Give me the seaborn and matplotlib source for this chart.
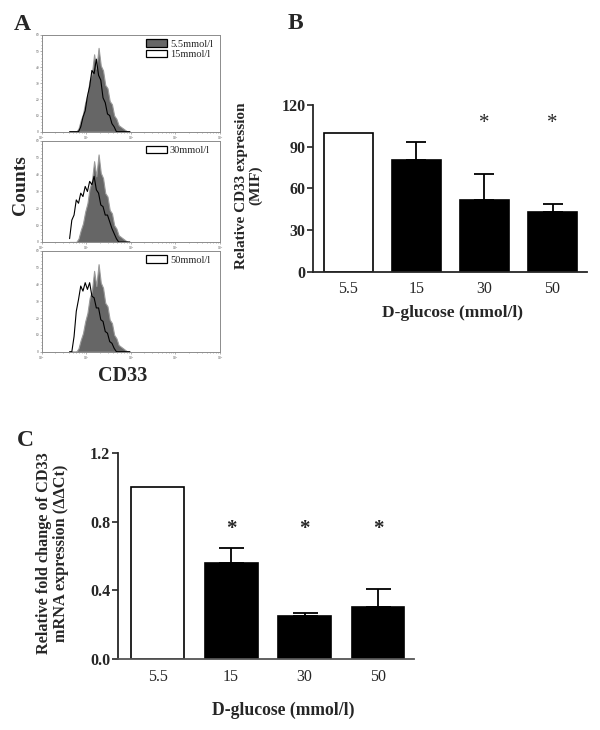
import numpy as np
import pandas as pd
import seaborn as sns
import matplotlib.pyplot as plt
from matplotlib.patches import Patch
from matplotlib.ticker import AutoMinorLocator

sns.set_theme(style="ticks")
plt.rcParams["font.family"] = ["Liberation Serif", "DejaVu Serif"]

# panel B / C bar data
glucose = ["5.5", "15", "30", "50"]
mif_mean = [100, 80.5, 51.5, 43]
mif_sem = [0, 12.5, 18.5, 6]
mif_sig = ["", "", "*", "*"]
mrna_mean = [1.0, 0.56, 0.25, 0.30]
mrna_sem = [0, 0.085, 0.015, 0.11]
mrna_sig = ["", "*", "*", "*"]

# panel A flow histograms (log10 bin left edges, counts per bin)
log_bins = [0.60, 0.65, 0.70, 0.75, 0.80, 0.85, 0.90, 0.95, 1.00, 1.05,
            1.10, 1.15, 1.20, 1.25, 1.30, 1.35, 1.40, 1.45, 1.50, 1.55,
            1.60, 1.65, 1.70, 1.75, 1.80, 1.85, 1.90, 1.95]
counts_55 = [0, 0, 0, 0, 2, 7, 11, 18, 23, 32, 36, 48, 39, 52, 41, 38, 29, 27,
             19, 17, 10, 8, 4, 3, 2, 1, 0, 0]
counts_15 = [0, 0, 0, 0, 0, 3, 9, 13, 22, 28, 38, 36, 45, 35, 32, 21, 18, 11,
             10, 5, 3, 0, 0, 0, 0, 0, 0, 0]
counts_30 = [2, 13, 16, 25, 23, 29, 27, 33, 30, 36, 34, 39, 31, 29, 22, 21, 16,
             16, 12, 8, 5, 2, 0, 0, 0, 0, 0, 0]
counts_50 = [0, 0, 9, 24, 31, 39, 36, 41, 37, 41, 33, 32, 26, 26, 19, 18, 12,
             11, 6, 5, 2, 0, 0, 0, 0, 0, 0, 0]
hist_panels = [("15mmol/l", counts_15), ("30mmol/l", counts_30), ("50mmol/l", counts_50)]

gray = "#666666"
bin_x = np.power(10, np.array(log_bins) + 0.025)

fig = plt.figure(figsize=(6, 7.3), dpi=100)

hist_boxes = [[0.0695, 0.8196, 0.2972, 0.1325],
              [0.0695, 0.6685, 0.2972, 0.1384],
              [0.0695, 0.5182, 0.2972, 0.1384]]

for k, (box, (name, counts)) in enumerate(zip(hist_boxes, hist_panels)):
    ax = fig.add_axes(box)
    sns.histplot(x=bin_x, weights=counts_55, binwidth=0.05, binrange=(0.6, 2.0),
                 log_scale=True, element="poly", fill=True, color=gray,
                 edgecolor="#9a9a9a", linewidth=0.8, alpha=1, ax=ax)
    sns.histplot(x=bin_x, weights=counts, binwidth=0.05, binrange=(0.6, 2.0),
                 log_scale=True, element="poly", fill=False, color="black",
                 linewidth=0.8, ax=ax)
    ax.set_xlim(1, 1e4)
    ax.set_ylim(0, 60)
    ax.set_yticks(range(0, 61, 10))
    ax.yaxis.set_minor_locator(AutoMinorLocator(5))
    ax.set_xlabel("")
    ax.set_ylabel("")
    for sp in ax.spines.values():
        sp.set_color("#8c8c8c")
        sp.set_linewidth(0.7)
    ax.tick_params(which="both", direction="out", length=1.5, width=0.4,
                   color="#777777", labelsize=2.5, labelcolor="#555555", pad=0.5)
    ax.tick_params(which="minor", length=1.0)
    if k == 0:
        handles = [Patch(facecolor=gray, edgecolor="black", linewidth=0.9),
                   Patch(facecolor="white", edgecolor="black", linewidth=0.9)]
        labels = ["5.5mmol/l", name]
    else:
        handles = [Patch(facecolor="white", edgecolor="black", linewidth=0.9)]
        labels = [name]
    ax.legend(handles, labels, loc="upper left", bbox_to_anchor=(0.585, 0.955),
              frameon=False, fontsize=7.5, handlelength=2.0, handleheight=0.75,
              handletextpad=0.3, labelspacing=0.1, borderpad=0, borderaxespad=0)

fig.text(0.034, 1 - 185 / 730, "Counts", rotation=90, ha="center", va="center",
         fontsize=14, fontweight="bold")
fig.text(123 / 600, 1 - 376 / 730, "CD33", ha="center", va="center",
         fontsize=14.5, fontweight="bold")


def bar_panel(ax, means, sems, sig, capsize, star_y, star_weight):
    df = pd.DataFrame({"glucose": glucose, "value": means})
    sns.barplot(data=df, x="glucose", y="value", hue="glucose",
                palette=["white", "black", "black", "black"], edgecolor="black",
                linewidth=1.2, width=0.72, errorbar=None, legend=False, ax=ax)
    idx = [i for i, s in enumerate(sems) if s > 0]
    ax.errorbar(x=idx, y=[means[i] for i in idx],
                yerr=[[0] * len(idx), [sems[i] for i in idx]],
                fmt="none", ecolor="black", elinewidth=1.3, capsize=capsize,
                capthick=1.3)
    for i, s in enumerate(sig):
        if s:
            ax.text(i, star_y, s, ha="center", va="center", fontsize=15,
                    fontweight=star_weight)
    sns.despine(ax=ax)
    ax.spines["left"].set_linewidth(1.3)
    ax.spines["bottom"].set_linewidth(1.3)
    ax.tick_params(axis="y", direction="out", length=4.5, width=1.2, pad=1,
                   labelsize=11.5)
    ax.tick_params(axis="x", length=0, pad=7, labelsize=11.5)
    for lab in ax.get_yticklabels():
        lab.set_fontweight("bold")
    ax.xaxis.label.set_verticalalignment("center")


# panel B
axb = fig.add_axes([0.5217, 0.6278, 0.456, 0.2284])
bar_panel(axb, mif_mean, mif_sem, mif_sig, 7.2, 107, "normal")
axb.set_xlim(-0.515, 3.5)
axb.set_ylim(0, 120)
axb.set_yticks([0, 30, 60, 90, 120])
axb.set_ylabel("Relative CD33 expression\n(MIF)", fontsize=11, fontweight="bold",
               linespacing=1.1)
axb.set_xlabel("D-glucose (mmol/l)", fontsize=12.5, fontweight="bold")
axb.yaxis.set_label_coords(-0.186, 0.517)
axb.xaxis.set_label_coords(0.511, -0.25)

# panel C
axc = fig.add_axes([0.1967, 0.0973, 0.4933, 0.2822])
bar_panel(axc, mrna_mean, mrna_sem, mrna_sig, 9, 0.758, "bold")
axc.set_xlim(-0.54, 3.49)
axc.set_ylim(0, 1.2)
axc.set_yticks([0.0, 0.4, 0.8, 1.2])
axc.set_yticklabels(["0.0", "0.4", "0.8", "1.2"], fontweight="bold")
axc.spines["bottom"].set_color("#555555")
axc.set_ylabel("Relative fold change of CD33\nmRNA expression (ΔΔCt)",
               fontsize=11.7, fontweight="bold", linespacing=1.1)
axc.set_xlabel("D-glucose (mmol/l)", fontsize=12.7, fontweight="bold")
axc.yaxis.set_label_coords(-0.1655, 0.515)
axc.xaxis.set_label_coords(0.558, -0.248)

# panel letters
for x, y, letter in [(22, 24, "A"), (295, 23.5, "B"), (25, 440, "C")]:
    fig.text(x / 600, 1 - y / 730, letter, ha="center", va="center",
             fontsize=17, fontweight="bold")

fig.savefig("out.png", dpi=100)
